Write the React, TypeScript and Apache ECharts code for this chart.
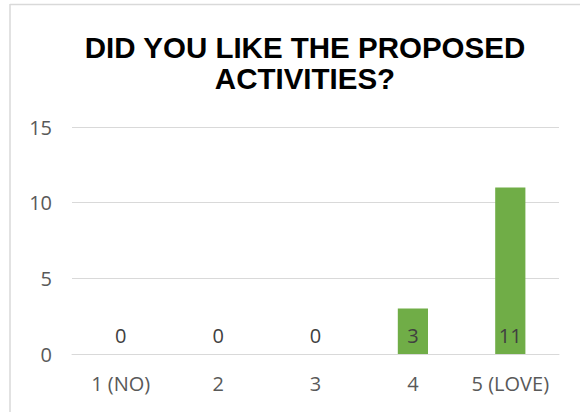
import React, { useEffect, useRef } from "react";
import * as echarts from "echarts";

const categories = ["1 (NO)", "2", "3", "4", "5 (LOVE)"];
const values = [0, 0, 0, 3, 11];
const titleText = "DID YOU LIKE THE PROPOSED\nACTIVITIES?";

export default function App() {
  const ref = useRef<HTMLDivElement>(null);
  useEffect(() => {
    if (!ref.current) return;
    const chart = echarts.init(ref.current, null, { renderer: "svg" });
    chart.setOption({
      animation: false,
      backgroundColor: "#ffffff",
      title: {
        text: titleText,
        left: 300,
        top: 27,
        textAlign: "center",
        textStyle: {
          fontFamily: "Liberation Sans, Arial",
          fontWeight: "bold",
          fontSize: 29.5,
          lineHeight: 31,
          color: "#000000",
        },
      },
      graphic: [
        { type: "line", shape: { x1: 10, y1: 4, x2: 10, y2: 412 }, style: { stroke: "#d9d9d9", lineWidth: 1.5 } },
        { type: "line", shape: { x1: 10, y1: 4.5, x2: 580, y2: 4.5 }, style: { stroke: "#d9d9d9", lineWidth: 1.5 } },
      ],
      grid: { left: 72, right: 21, top: 127, bottom: 58 },
      xAxis: {
        type: "category",
        data: categories,
        axisLine: { lineStyle: { color: "#d9d9d9", width: 1 } },
        axisTick: { show: false },
        axisLabel: { interval: 0, color: "#595959", fontSize: 20, fontFamily: "Open Sans, Liberation Sans", margin: 19 },
      },
      yAxis: {
        type: "value",
        min: 0,
        max: 15,
        interval: 5,
        axisLine: { show: false },
        axisTick: { show: false },
        splitLine: { lineStyle: { color: "#d9d9d9", width: 1 } },
        axisLabel: { color: "#595959", fontSize: 20, fontFamily: "Open Sans, Liberation Sans", margin: 20 },
      },
      series: [
        {
          type: "bar",
          data: values,
          barWidth: "31%",
          itemStyle: { color: "#70ad47" },
          label: {
            show: true,
            position: "insideBottom",
            distance: 9,
            color: "#404040",
            fontSize: 20,
            fontFamily: "Open Sans, Liberation Sans",
          },
        },
      ],
    });
    return () => chart.dispose();
  }, []);
  return <div ref={ref} style={{ position: "fixed", left: 0, top: 0, width: 580, height: 412 }} />;
}
